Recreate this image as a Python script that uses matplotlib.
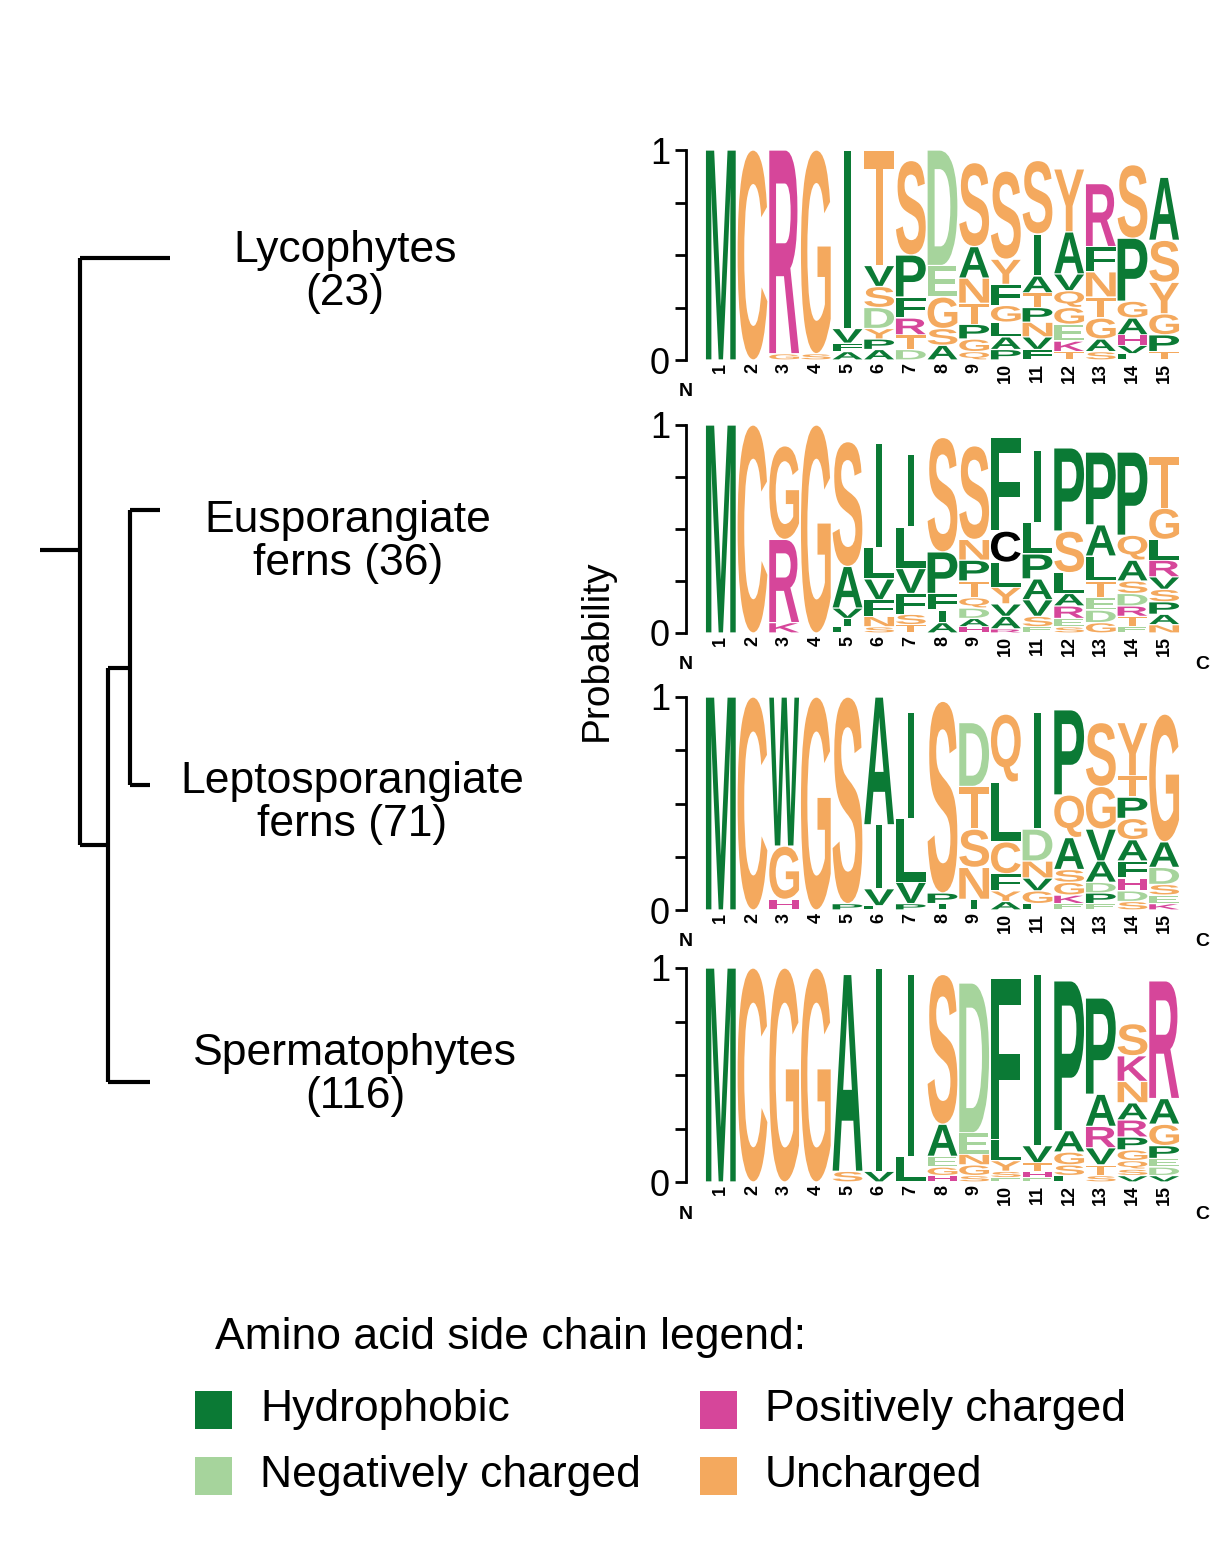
import matplotlib
matplotlib.use("Agg")
import matplotlib.pyplot as plt
from matplotlib.textpath import TextPath
from matplotlib.font_manager import FontProperties
from matplotlib.patches import PathPatch, Rectangle
from matplotlib.transforms import Affine2D

# ---------------- data ----------------
groups = ["Lycophytes\n(23)", "Eusporangiate\nferns (36)", "Leptosporangiate\nferns (71)", "Spermatophytes\n(116)"]
positions = list(range(1, 16))

lyco = [
    "M1", "C1", "R.97 G.03", "G.97 S.03", "I.85 V.07 A.04 F.04",
    "T.55 D.1 S.1 V.1 A.05 P.05 Y.05", "S.45 P.2 F.1 R.08 T.07 D.05",
    "D.55 G.15 E.15 S.08 A.07", "S.4 A.15 N.12 T.1 P.07 G.06 Q.04",
    "S.42 Y.12 F.1 G.08 L.07 A.06 P.05", "S.35 I.2 A.08 N.07 P.07 T.07 V.06 F.05",
    "Y.3 A.2 E.08 G.08 Q.08 V.08 K.05 T.04", "R.3 N.12 F.12 G.1 T.1 A.06 S.04",
    "S.35 P.3 A.08 G.08 H.05 V.04 L.03", "A.3 S.2 Y.15 G.1 P.08 T.04",
]
euspo = [
    "M1", "C1", "G.45 R.4 K.05", "G1", "S.6 A.2 V.05 I.04 L.03",
    "I.5 L.15 V.1 F.08 N.05 S.03", "I.35 L.2 V.12 F.1 S.05 T.04",
    "S.55 P.2 F.08 I.06 A.05", "S.45 P.1 N.1 T.08 D.05 Q.05 A.04 H.03",
    "F.45 C.15 L.12 Y.08 A.06 V.06 R.02", "I.35 L.15 P.12 A.1 V.08 S.05 E.03",
    "P.4 S.2 L.1 R.06 A.06 E.04 S.03", "P.35 A.15 L.12 T.08 D.06 E.06 G.05",
    "P.4 Q.12 A.1 D.06 S.06 T.05 R.05 E.03", "T.25 G.15 L.1 R.08 P.06 S.06 V.06 A.05 N.04",
]
lepto = [
    "M1", "C1", "W.7 G.25 H.05", "G1", "S.97 P.03",
    "A.6 I.3 V.08 L.02", "I.5 L.3 V.1 P.03", "S.9 P.05 I.03",
    "D.3 T.2 N.15 S.18 I.05", "Q.32 L.28 C.15 F.08 Y.05 A.04",
    "I.55 D.15 N.08 G.06 V.06 L.03", "P.4 Q.2 A.15 G.06 S.06 K.04 E.03",
    "S.3 G.2 V.15 A.1 P.05 D.05 E.03", "Y.25 A.1 G.1 P.1 T.1 F.08 H.06 D.05 S.04",
    "G.6 A.12 D.08 S.05 E.04 K.03",
]
sperm = [
    "M1", "C1", "G1", "G1", "A.92 S.05",
    "I.95 V.05", "I.85 L.12", "S.7 A.15 E.05 G.04 H.03",
    "D.7 E.1 G.05 N.05 S.03", "F.75 L.1 Y.05 S.03 E.02",
    "I.8 V.08 T.04 H.03 E.02", "P.7 A.1 G.06 S.05 L.03",
    "P.45 A.15 R.1 V.08 T.05 S.03", "S.15 K.12 N.1 R.08 A.08 P.06 G.05 Q.04 V.03 S.03",
    "R.55 A.12 G.1 P.06 D.04 E.04 V.03",
]
panels = [lyco, euspo, lepto, sperm]

# tree nodes (pixel coords of the original layout)
tree_segments = [
    ((40, 550), (80, 550)), ((80, 258), (80, 845)), ((80, 258), (170, 258)),
    ((80, 845), (108, 845)), ((108, 668), (108, 1082)), ((108, 1082), (150, 1082)),
    ((108, 668), (130, 668)), ((130, 510), (130, 785)), ((130, 510), (160, 510)),
    ((130, 785), (150, 785)),
]
label_pos = [(345, 272), (348, 542), (352, 803), (355, 1075)]

legend_names = ["Hydrophobic", "Negatively charged", "Positively charged", "Uncharged"]
legend_colors = ["#0b7a35", "#a6d49c", "#d6469a", "#f4a95e"]

classes = {}
for a in "MAVLIFWP":
    classes[a] = legend_colors[0]
for a in "DE":
    classes[a] = legend_colors[1]
for a in "RKH":
    classes[a] = legend_colors[2]
for a in "GSTNQYC":
    classes[a] = legend_colors[3]

def parse(s):
    return [(tok[0], float(tok[1:])) for tok in s.split()]

W, H = 1230, 1552
fig = plt.figure(figsize=(W / 100, H / 100), dpi=100)
fp = FontProperties(family="Liberation Sans", weight="bold")

def draw_letter(ax, ch, x, y, w, h, color):
    tp = TextPath((0, 0), ch, size=1, prop=fp)
    bb = tp.get_extents()
    if ch == "I":
        x = x + w * 0.39
        w = w * 0.22
    tr = Affine2D().translate(-bb.x0, -bb.y0).scale(w / bb.width, h / bb.height).translate(x, y)
    path = tr.transform_path(tp)
    ax.add_patch(PathPatch(path, facecolor=color, edgecolor="none"))

panel_px = [(150, 360), (425, 633), (697, 910), (968, 1182)]
xl, xr = 686, 1180
for pi, (data, (top, bot)) in enumerate(zip(panels, panel_px)):
    ax = fig.add_axes([xl / W, 1 - bot / H, (xr - xl) / W, (bot - top) / H])
    for i, s in enumerate(data):
        items = sorted(parse(s), key=lambda t: t[1])
        y = 0.0
        for ch, p in items:
            col = classes.get(ch, "black")
            if pi == 1 and i == 9 and ch == "C":
                col = "black"
            draw_letter(ax, ch, positions[i] - 0.47, y + 0.003, 0.94, p - 0.006, col)
            y += p
    ax.set_xlim(-0.1, 15.5)
    ax.set_ylim(0, 1)
    for sp in ["top", "right", "bottom"]:
        ax.spines[sp].set_visible(False)
    ax.spines["left"].set_linewidth(2)
    ax.set_yticks([0, 1])
    ax.set_yticklabels(["0", "1"], fontsize=26, family="Liberation Sans")
    ax.set_yticks([0.25, 0.5, 0.75], minor=True)
    ax.tick_params(axis="y", which="both", length=8, width=2)
    ax.set_xticks(positions)
    ax.set_xticklabels([str(p) for p in positions], rotation=90, fontsize=13,
                       fontweight="bold", family="Liberation Sans")
    ax.tick_params(axis="x", length=0, pad=2)
    ax.text(-0.1, -0.11, "N", ha="center", va="top",
            fontsize=14, fontweight="bold", family="Liberation Sans")
    if pi > 0:
        ax.text(16.2, -0.11, "C", ha="center", va="top", clip_on=False,
                fontsize=14, fontweight="bold", family="Liberation Sans")

fig.text(597 / W, 1 - 650 / H, "Probability", rotation=90, ha="center", va="center",
         fontsize=28, family="Liberation Sans")

ov = fig.add_axes([0, 0, 1, 1], zorder=-1)
ov.set_xlim(0, W)
ov.set_ylim(H, 0)
ov.axis("off")
for (x0, y0), (x1, y1) in tree_segments:
    ov.plot([x0, x1], [y0, y1], color="black", lw=3, solid_capstyle="butt")
for name, (x, y) in zip(groups, label_pos):
    ov.text(x, y, name, ha="center", va="center", fontsize=32, family="Liberation Sans",
            linespacing=1.05)

ov.text(215, 1337, "Amino acid side chain legend:", ha="left", va="center",
        fontsize=32, family="Liberation Sans")
leg_xy = [(195, 1410), (195, 1476), (700, 1410), (700, 1476)]
for name, col, (x, y) in zip(legend_names, legend_colors, leg_xy):
    ov.add_patch(Rectangle((x, y - 19), 37, 38, facecolor=col, edgecolor="none"))
    ov.text(x + 65, y, name, ha="left", va="center", fontsize=32, family="Liberation Sans")

fig.savefig("out.png", dpi=100)
